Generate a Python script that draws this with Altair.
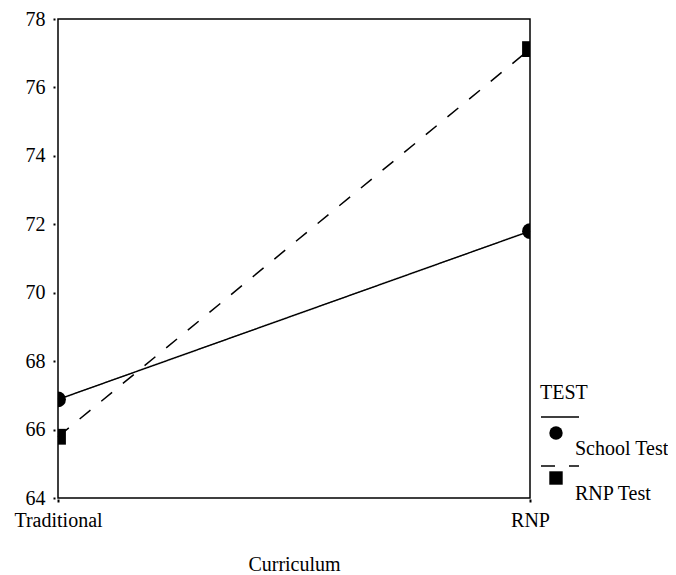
import altair as alt
import pandas as pd

curriculum = ["Traditional", "RNP", "Traditional", "RNP"]
test = ["School Test", "School Test", "RNP Test", "RNP Test"]
score = [66.88, 71.80, 65.79, 77.12]
y_ticks = [64, 66, 68, 70, 72, 74, 76, 78]
order = ["School Test", "RNP Test"]

df = pd.DataFrame({"Curriculum": curriculum, "TEST": test, "TESTL": test, "score": score})

FONT = "Liberation Serif"

x_enc = alt.X(
    "Curriculum:N",
    scale=alt.Scale(type="point", domain=["Traditional", "RNP"], padding=0),
    axis=alt.Axis(title="Curriculum", labelAngle=0, domain=False, grid=False,
                  tickSize=3, tickWidth=2, offset=1, labelPadding=8, titlePadding=24),
)
y_enc = alt.Y(
    "score:Q",
    scale=alt.Scale(domain=[64, 78], nice=False, zero=False),
    axis=alt.Axis(title=None, values=y_ticks, domain=False, grid=False,
                  tickSize=2, tickWidth=2, offset=3, labelPadding=8),
)

lines = alt.Chart(df).mark_line(color="black", strokeWidth=1.5).encode(
    x=x_enc,
    y=y_enc,
    strokeDash=alt.StrokeDash(
        "TESTL:N",
        sort=order,
        scale=alt.Scale(range=[[1, 0], [14, 14]]),
        legend=alt.Legend(
            title="TEST", orient="none", legendX=482, legendY=364,
            symbolType="stroke", symbolSize=1444, symbolStrokeColor="black",
            symbolStrokeWidth=1.5, labelExpr="' '", rowPadding=19,
            titlePadding=-6, padding=0,
        ),
    ),
)

points = alt.Chart(df).mark_point(filled=True, color="black", size=250, opacity=1, clip=True).encode(
    x=x_enc,
    y=y_enc,
    shape=alt.Shape(
        "TEST:N",
        scale=alt.Scale(domain=order, range=["circle", "square"]),
        legend=alt.Legend(
            title=None, orient="none", legendX=488, legendY=404,
            symbolSize=180, symbolFillColor="black", symbolStrokeColor="black",
            symbolStrokeWidth=1, labelOffset=9, labelBaseline="alphabetic",
            labelExpr="['', datum.label]", labelLimit=200,
            rowPadding=3, padding=0,
        ),
    ),
)

chart = (
    alt.layer(lines, points)
    .properties(
        width=472, height=479,
        autosize=alt.AutoSizeParams(type="none"),
        padding={"left": 50, "top": 11, "right": 138, "bottom": 77},
    )
    .configure_view(stroke="black", strokeWidth=1.5)
    .configure_axis(labelFont=FONT, titleFont=FONT, labelFontSize=20, titleFontSize=20,
                    labelColor="black", titleColor="black", tickColor="black",
                    titleFontWeight="normal")
    .configure_legend(labelFont=FONT, titleFont=FONT, labelFontSize=20, titleFontSize=20,
                      labelColor="black", titleColor="black", titleFontWeight="normal")
)

chart.save("out.html", embed_options={"renderer": "svg", "actions": False})
